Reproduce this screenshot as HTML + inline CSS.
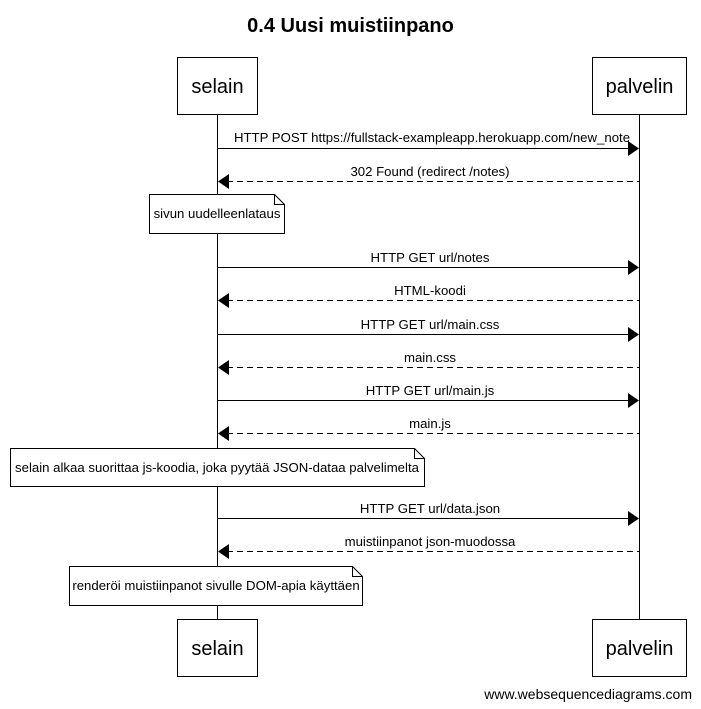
<!DOCTYPE html>
<html><head><meta charset="utf-8"><style>
html,body{margin:0;padding:0;background:#fff;}
svg{display:block;font-family:"Liberation Sans",sans-serif;}
</style></head><body>
<svg width="701" height="709" viewBox="0 0 701 709" xmlns="http://www.w3.org/2000/svg">
<text x="350.5" y="32" font-size="20" font-weight="bold" text-anchor="middle">0.4 Uusi muistiinpano</text>
<g stroke="#000" stroke-width="1" fill="none">
<line x1="217.5" y1="114" x2="217.5" y2="619"/>
<line x1="639.5" y1="114" x2="639.5" y2="619"/>
</g>
<g stroke="#000" fill="#fff">
<rect x="177.5" y="57.5" width="80" height="57"/>
<rect x="592.5" y="57.5" width="94" height="57"/>
<rect x="177.5" y="619.5" width="80" height="57"/>
<rect x="592.5" y="619.5" width="94" height="57"/>
</g>
<g font-size="20" text-anchor="middle">
<text x="217.5" y="93">selain</text>
<text x="639.5" y="93">palvelin</text>
<text x="217.5" y="655">selain</text>
<text x="639.5" y="655">palvelin</text>
</g>
<g font-size="13.2" text-anchor="middle">
<line x1="217.5" y1="148.5" x2="630" y2="148.5" stroke="#000"/><polygon points="628,141 639,148.5 628,156"/>
<text x="432" y="142">HTTP POST https://fullstack-exampleapp.herokuapp.com/new_note</text>
<line x1="227" y1="181.5" x2="639" y2="181.5" stroke="#000" stroke-dasharray="6,4"/><polygon points="229,174 218,181.5 229,189"/>
<text x="430" y="176">302 Found (redirect /notes)</text>
<line x1="217.5" y1="267.5" x2="630" y2="267.5" stroke="#000"/><polygon points="628,260 639,267.5 628,275"/>
<text x="430" y="262">HTTP GET url/notes</text>
<line x1="227" y1="300.5" x2="639" y2="300.5" stroke="#000" stroke-dasharray="6,4"/><polygon points="229,293 218,300.5 229,308"/>
<text x="430" y="295">HTML-koodi</text>
<line x1="217.5" y1="334.5" x2="630" y2="334.5" stroke="#000"/><polygon points="628,327 639,334.5 628,342"/>
<text x="430" y="329">HTTP GET url/main.css</text>
<line x1="227" y1="367.5" x2="639" y2="367.5" stroke="#000" stroke-dasharray="6,4"/><polygon points="229,360 218,367.5 229,375"/>
<text x="430" y="362">main.css</text>
<line x1="217.5" y1="400.5" x2="630" y2="400.5" stroke="#000"/><polygon points="628,393 639,400.5 628,408"/>
<text x="430" y="395">HTTP GET url/main.js</text>
<line x1="227" y1="433.5" x2="639" y2="433.5" stroke="#000" stroke-dasharray="6,4"/><polygon points="229,426 218,433.5 229,441"/>
<text x="430" y="428">main.js</text>
<line x1="217.5" y1="518.5" x2="630" y2="518.5" stroke="#000"/><polygon points="628,511 639,518.5 628,526"/>
<text x="430" y="513">HTTP GET url/data.json</text>
<line x1="227" y1="551.5" x2="639" y2="551.5" stroke="#000" stroke-dasharray="6,4"/><polygon points="229,544 218,551.5 229,559"/>
<text x="430" y="546">muistiinpanot json-muodossa</text>
</g>
<g stroke="#000" fill="#fff">
<path d="M149.5 194.5 H274.5 L284.5 204.5 V233.5 H149.5 Z"/><path d="M274.5 194.5 V204.5 H284.5" fill="none"/>
<path d="M10.5 448.5 H414.5 L424.5 458.5 V486.5 H10.5 Z"/><path d="M414.5 448.5 V458.5 H424.5" fill="none"/>
<path d="M69.5 566.5 H352.5 L362.5 576.5 V605.5 H69.5 Z"/><path d="M352.5 566.5 V576.5 H362.5" fill="none"/>
</g>
<g font-size="13.2" text-anchor="middle">
<text x="217" y="218">sivun uudelleenlataus</text>
<text x="217" y="472">selain alkaa suorittaa js-koodia, joka pyytää JSON-dataa palvelimelta</text>
<text x="216" y="590">renderöi muistiinpanot sivulle DOM-apia käyttäen</text>
</g>
<text x="692" y="699" font-size="14" text-anchor="end">www.websequencediagrams.com</text>
</svg>
</body></html>
